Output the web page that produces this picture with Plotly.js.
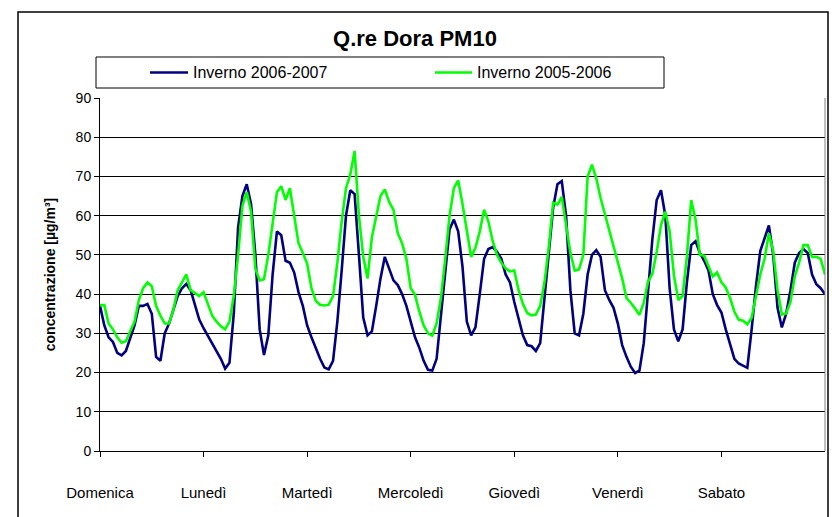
<!DOCTYPE html>
<html>
<head>
<meta charset="utf-8">
<script src="https://cdn.plot.ly/plotly-3.0.1.min.js"></script>
<style>
  html, body { margin: 0; padding: 0; background: #ffffff; }
  #chart { width: 832px; height: 517px; }
</style>
</head>
<body>
<div id="chart"></div>
<script>
// ---- data ----
const days = ['Domenica', 'Lunedì', 'Martedì', 'Mercoledì', 'Giovedì', 'Venerdì', 'Sabato'];
const dayStartHour = [0, 24, 48, 72, 96, 120, 144];
const seriesNames = ['Inverno 2006-2007', 'Inverno 2005-2006'];

// hourly PM10, Inverno 2006-2007 (hour 0 .. 168)
const inverno0607 = [
  37, 32, 29, 27.8, 25, 24.4, 25.5, 28.5, 32, 37,
  37, 37.5, 35, 24, 23, 30, 32.5, 36, 39.5, 41.5,
  42.6, 41, 37.5, 33.5, 31.3, 29.3, 27.5, 25.3, 23.5, 21,
  22.5, 35, 57, 65, 68, 63, 50, 31, 24.5, 29.5,
  45, 56, 55, 48.5, 48, 45.5, 40.5, 37, 32, 29,
  26, 23.5, 21.3, 20.8, 23, 33, 46, 60, 66.5, 65.5,
  50, 34, 29.5, 30.5, 37, 44, 49.5, 46.5, 43.5, 42.3,
  40, 37, 33, 29, 26.3, 23, 20.7, 20.5, 23.5, 34,
  46, 56.5, 59, 56, 47, 33, 29.5, 31.5, 40, 49,
  51.5, 52, 50.8, 49, 45, 43, 38, 34, 29.5, 27,
  26.7, 25.5, 27.5, 39, 51, 62, 68, 68.8, 60, 41,
  30, 29.5, 35, 45, 50, 51.2, 49.5, 41, 38.5, 36.5,
  32.5, 27, 24, 21.5, 19.9, 20.5, 27.5, 42, 54, 64,
  66.5, 60, 41.5, 31, 28, 31, 43, 52.5, 53.5, 50.5,
  48.5, 46, 40, 37.2, 35.3, 31, 27.3, 23.5, 22.3, 21.8,
  21.2, 31, 42, 51, 54, 57.5, 50, 36.5, 31.5, 35,
  41, 48, 50.5, 51.5, 50.5, 45, 42.5, 41.5, 40
];

// hourly PM10, Inverno 2005-2006 (hour 0 .. 168)
const inverno0506 = [
  37.2, 37.2, 32.5, 31, 29, 27.6, 28, 30.5, 33, 38.5,
  41.5, 43, 42, 37, 34.5, 32.5, 32.5, 36, 41, 43,
  45, 41, 40.3, 39.5, 40.5, 37.5, 34.5, 33, 31.8, 31,
  33, 39.5, 50, 62.5, 66, 61, 46.5, 43.5, 43.8, 50,
  58, 66, 67.5, 64, 67, 60, 53, 50.5, 47.8, 41.5,
  38.3, 37.3, 37.1, 37.3, 39.5, 48, 58.5, 67, 70.5, 76.5,
  60, 49.5, 44, 54.5, 59.5, 65, 66.7, 63.5, 61.5, 55.5,
  53, 49, 41.5, 39.8, 35.5, 32, 30, 29.4, 32.5, 39,
  49, 60, 67, 69, 63, 56, 49.5, 51.8, 56, 61.5,
  58.5, 53.5, 50, 48, 46.6, 45.8, 46, 41, 37.5, 35.2,
  34.6, 34.8, 37, 43, 52, 63.3, 62.8, 64.8, 57.3, 50.5,
  46, 46.3, 50, 70, 73, 69.5, 64.5, 60.5, 56.7, 52,
  48.3, 44, 39, 37.8, 36.3, 34.7, 37.8, 43.2, 45.2, 50.8,
  57.6, 61, 56, 44.7, 38.5, 39.5, 49.6, 64, 59, 50,
  49.8, 47, 44.5, 45.5, 43, 41.7, 39, 35.5, 33.5, 33.2,
  32.3, 34, 39.5, 45, 49, 55.5, 51, 41, 34.8, 35,
  38, 44.5, 48, 52.5, 52.5, 49.5, 49.5, 49, 45
];

const hours = Array.from({length: inverno0607.length}, (_, i) => i);

// ---- layout helpers (pixel -> paper) ----
const W = 832, H = 517;
const PL = 100, PR = 825, PT = 98, PB = 451;
const fx = p => (p - PL) / (PR - PL);
const fy = p => (PB - p) / (PB - PT);

const FONT = '"Liberation Sans", Arial, Helvetica, sans-serif';
const BLUE = '#000080';
const GREEN = '#00ff00';

const traces = [
  { x: hours, y: inverno0607, type: 'scatter', mode: 'lines', name: seriesNames[0],
    line: { color: BLUE, width: 2.6 }, hoverinfo: 'skip' },
  { x: hours, y: inverno0506, type: 'scatter', mode: 'lines', name: seriesNames[1],
    line: { color: GREEN, width: 2.6 }, hoverinfo: 'skip' }
];

const legendY = 72.5;
const shapes = [
  // outer chart frame
  { type: 'rect', xref: 'paper', yref: 'paper', x0: fx(18), x1: fx(828), y0: fy(540), y1: fy(12),
    line: { color: '#000000', width: 1.5 } },
  // plot-area right edge
  { type: 'line', xref: 'paper', yref: 'paper', x0: 1, x1: 1, y0: 0, y1: 1,
    line: { color: '#808080', width: 1 } },
  // legend box
  { type: 'rect', xref: 'paper', yref: 'paper', x0: fx(96), x1: fx(664), y0: fy(88), y1: fy(57),
    line: { color: '#000000', width: 1 }, fillcolor: '#ffffff' },
  // legend samples
  { type: 'line', xref: 'paper', yref: 'paper', x0: fx(150), x1: fx(188), y0: fy(legendY), y1: fy(legendY),
    line: { color: BLUE, width: 2.6 } },
  { type: 'line', xref: 'paper', yref: 'paper', x0: fx(435), x1: fx(472), y0: fy(legendY), y1: fy(legendY),
    line: { color: GREEN, width: 2.6 } }
];

const annotations = [
  { xref: 'paper', yref: 'paper', x: fx(191), y: fy(legendY), xanchor: 'left', yanchor: 'middle',
    text: seriesNames[0], showarrow: false, font: { family: FONT, size: 16, color: '#000' } },
  { xref: 'paper', yref: 'paper', x: fx(475), y: fy(legendY), xanchor: 'left', yanchor: 'middle',
    text: seriesNames[1], showarrow: false, font: { family: FONT, size: 16, color: '#000' } }
];

const layout = {
  width: W, height: H,
  margin: { l: PL, r: W - PR, t: PT, b: H - PB, pad: 0 },
  paper_bgcolor: '#ffffff',
  plot_bgcolor: '#ffffff',
  font: { family: FONT, size: 15, color: '#000000' },
  showlegend: false,
  title: { text: '<b>Q.re Dora PM10</b>', font: { family: FONT, size: 22, color: '#000' },
           x: 415 / W, xanchor: 'center', y: 1 - 38 / H, yanchor: 'middle', xref: 'container', yref: 'container' },
  xaxis: {
    range: [0, 168],
    tickmode: 'array', tickvals: dayStartHour, ticktext: days,
    ticks: 'outside', ticklen: 5, tickcolor: '#000', tickwidth: 1,
    showline: true, linecolor: '#000', linewidth: 1,
    showgrid: false, zeroline: false,
    ticklabelstandoff: 23,
    tickfont: { family: FONT, size: 15, color: '#000' },
    fixedrange: true
  },
  yaxis: {
    range: [0, 90], tick0: 0, dtick: 10,
    ticks: 'outside', ticklen: 5, tickcolor: '#000', tickwidth: 1,
    showline: true, linecolor: '#000', linewidth: 1,
    showgrid: true, gridcolor: '#000000', gridwidth: 1,
    zeroline: false,
    tickfont: { family: FONT, size: 14, color: '#000' },
    title: { text: '<b>concentrazione [µg/m³]</b>', font: { family: FONT, size: 14, color: '#000' }, standoff: 16 },
    fixedrange: true
  },
  shapes: shapes,
  annotations: annotations
};

Plotly.newPlot('chart', traces, layout, { staticPlot: true, displayModeBar: false });
</script>
</body>
</html>
